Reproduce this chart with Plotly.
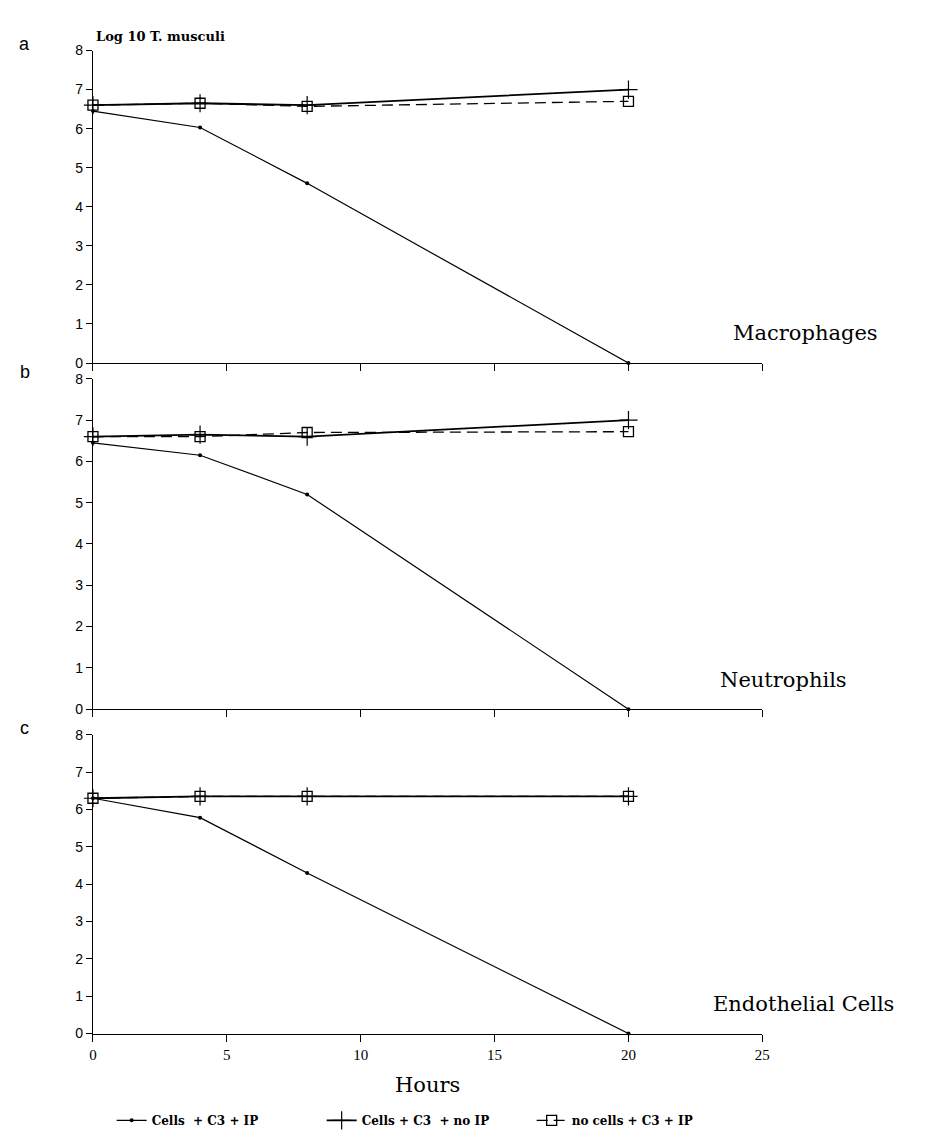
import plotly.graph_objects as go

W, H = 944, 1141

hours = [0, 4, 8, 20]
panels = ["Macrophages", "Neutrophils", "Endothelial Cells"]
panel_letters = ["a", "b", "c"]

# Log10 T. musculi per panel
cells_c3_ip = [
    [6.45, 6.03, 4.60, 0.0],
    [6.45, 6.15, 5.20, 0.0],
    [6.30, 5.78, 4.30, 0.0],
]
cells_c3_noip = [
    [6.60, 6.65, 6.60, 7.00],
    [6.60, 6.65, 6.60, 7.00],
    [6.30, 6.35, 6.35, 6.35],
]
nocells_c3_ip = [
    [6.60, 6.65, 6.57, 6.70],
    [6.60, 6.60, 6.70, 6.72],
    [6.30, 6.35, 6.35, 6.35],
]
series_names = ["Cells  + C3 + IP", "Cells + C3  + no IP", "no cells + C3 + IP"]

x_ticks = [0, 5, 10, 15, 20, 25]
y_ticks = [0, 1, 2, 3, 4, 5, 6, 7, 8]

def px(x):
    return x / W

def py(y):
    return 1 - y / H

# pixel rows of y=0 and y=8 for each panel
panel_rows = [(352, 35), (703, 368), (1032, 729)]
x_left, x_right = 82, 760

fig = go.Figure()
for i in range(3):
    xa = "x" if i == 0 else f"x{i+1}"
    ya = "y" if i == 0 else f"y{i+1}"
    show = i == 0
    fig.add_trace(go.Scatter(
        x=hours, y=cells_c3_ip[i], xaxis=xa, yaxis=ya, mode="lines+markers",
        name=series_names[0], showlegend=show, cliponaxis=False,
        line=dict(color="black", width=1.2),
        marker=dict(symbol="circle", size=4, color="black")))
    fig.add_trace(go.Scatter(
        x=hours, y=cells_c3_noip[i], xaxis=xa, yaxis=ya, mode="lines+markers",
        name=series_names[1], showlegend=show, cliponaxis=False,
        line=dict(color="black", width=1.8),
        marker=dict(symbol="cross-thin", size=13, color="black",
                    line=dict(width=1.2, color="black"))))
    fig.add_trace(go.Scatter(
        x=hours, y=nocells_c3_ip[i], xaxis=xa, yaxis=ya, mode="lines+markers",
        name=series_names[2], showlegend=show, cliponaxis=False,
        line=dict(color="black", width=1.3, dash="11px,6px"),
        marker=dict(symbol="square-open", size=10, color="black",
                    line=dict(width=1.3))))

layout = dict(
    width=W, height=H,
    margin=dict(l=0, r=0, t=0, b=0),
    paper_bgcolor="white", plot_bgcolor="white",
    showlegend=True,
    legend=dict(orientation="h", x=px(420), xanchor="center", y=py(1120), yanchor="middle",
                font=dict(family="DejaVu Serif", size=12, color="black", weight="bold"),
                bgcolor="rgba(0,0,0,0)", itemwidth=30, tracegroupgap=0,
                entrywidth=165, entrywidthmode="pixels"),
)
for i in range(3):
    y0, y8 = panel_rows[i]
    xk = "xaxis" if i == 0 else f"xaxis{i+1}"
    yk = "yaxis" if i == 0 else f"yaxis{i+1}"
    ya = "y" if i == 0 else f"y{i+1}"
    xa = "x" if i == 0 else f"x{i+1}"
    layout[xk] = dict(
        domain=[px(x_left), px(x_right)], range=[0, 25], anchor=ya,
        showline=True, linecolor="black", linewidth=1.3,
        tickmode="array", tickvals=x_ticks, ticks="outside", ticklen=7,
        tickcolor="black", tickwidth=1,
        showticklabels=(i == 2), showgrid=False, zeroline=False,
        tickfont=dict(family="Liberation Serif", size=15, color="black"),
    )
    layout[yk] = dict(
        domain=[py(y0), py(y8)], range=[0, 8], anchor=xa,
        showline=True, linecolor="black", linewidth=1,
        tickmode="array", tickvals=y_ticks, ticks="outside", ticklen=6,
        tickcolor="black", tickwidth=1,
        showgrid=False, zeroline=False,
        tickfont=dict(family="Liberation Sans", size=14, color="black"),
    )
fig.update_layout(**layout)

ann = []
label_x = [728, 715, 708]
for i in range(3):
    y0, y8 = panel_rows[i]
    ann.append(dict(text=panels[i], xref="paper", yref="paper", x=px(label_x[i]),
                    y=py(y0 - 30), xanchor="left", yanchor="middle", showarrow=False,
                    font=dict(family="DejaVu Serif", size=21, color="black")))
    ann.append(dict(text=panel_letters[i], xref="paper", yref="paper", x=px(13),
                    y=py(y8 - 7), xanchor="center", yanchor="middle", showarrow=False,
                    font=dict(family="Liberation Sans", size=18, color="black")))
ann.append(dict(text="<b>Log 10 T. musculi</b>", xref="paper", yref="paper", x=px(83),
                y=py(21), xanchor="left", yanchor="middle", showarrow=False,
                font=dict(family="DejaVu Serif", size=13, color="black")))
ann.append(dict(text="Hours", xref="paper", yref="paper", x=px((x_left + x_right) / 2),
                y=py(1084), xanchor="center", yanchor="middle", showarrow=False,
                font=dict(family="DejaVu Serif", size=21, color="black")))
fig.update_layout(annotations=ann)

fig.write_html("out.html")
